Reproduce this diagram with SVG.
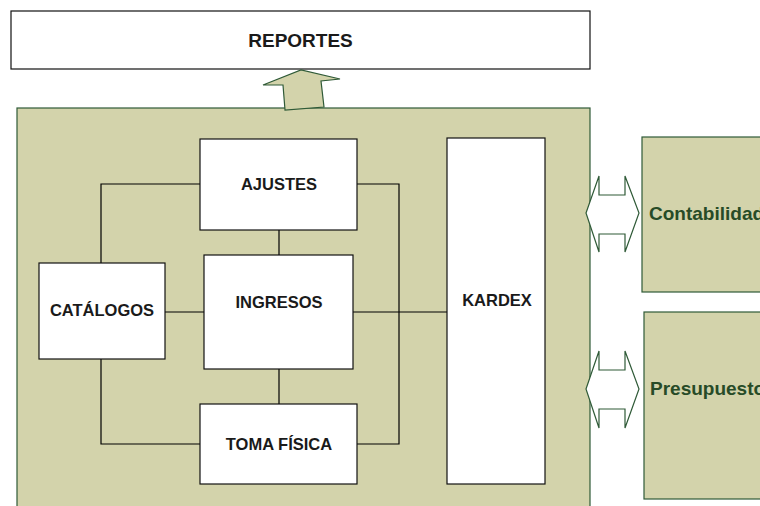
<svg xmlns="http://www.w3.org/2000/svg" width="760" height="506" viewBox="0 0 760 506">
  <style>
    .box { fill: #ffffff; stroke: #111111; stroke-width: 1.2; }
    .shade { fill: none; stroke: #777777; stroke-width: 1.2; }
    .panel { fill: #d3d3ab; stroke: #2f5a37; stroke-width: 1.2; }
    .link { fill: none; stroke: #000000; stroke-width: 1.2; }
    .label { font-family: "Liberation Sans", Arial, sans-serif; font-weight: bold; font-size: 16.5px; fill: #1a1a1a; text-anchor: middle; }
    .ext { font-family: "Liberation Sans", Arial, sans-serif; font-weight: bold; font-size: 19px; fill: #274b27; }
    .flow { fill: #ffffff; stroke: #2f5a37; stroke-width: 1.2; stroke-linejoin: miter; }
    .up { fill: #d3d3ab; stroke: #2f5a37; stroke-width: 1.2; }
  </style>

  <rect width="760" height="506" fill="#ffffff"/>

  <!-- report output -->
  <g id="reportes">
    <rect class="box" x="11" y="11" width="579" height="58"/>
    <text class="label" x="300.5" y="47" style="font-size:19px">REPORTES</text>
  </g>

  <!-- main inventory module -->
  <g id="inventario">
    <rect class="panel" x="17" y="108" width="573" height="410"/>
  </g>

  <!-- upward arrow towards reports -->
  <g id="flecha-reportes">
    <polygon class="up" points="285,110 283,85 263,85 301,70 340,79 321,81 324,107"/>
  </g>

  <!-- connectors -->
  <g id="connectors">
    <polyline class="link" points="200,184 101,184 101,444 200,444"/>
    <polyline class="link" points="357,184 399,184 399,444 357,444"/>
    <line class="link" x1="279" y1="230" x2="279" y2="255"/>
    <line class="link" x1="279" y1="369" x2="279" y2="404"/>
    <line class="link" x1="165" y1="312" x2="204" y2="312"/>
    <line class="link" x1="353" y1="312" x2="447" y2="312"/>
  </g>

  <g id="ajustes">
    <rect class="box" x="200" y="139" width="157" height="91"/>
    <text class="label" x="279" y="190">AJUSTES</text>
  </g>

  <g id="ingresos">
    <rect class="box" x="204" y="255" width="149" height="114"/>
    <text class="label" x="279" y="308">INGRESOS</text>
  </g>

  <g id="catalogos">
    <rect class="box" x="39" y="263" width="126" height="96"/>
    <text class="label" x="102" y="316">CATÁLOGOS</text>
  </g>

  <g id="toma-fisica">
    <rect class="box" x="200" y="404" width="157" height="80"/>
    <text class="label" x="279" y="450">TOMA FÍSICA</text>
  </g>

  <g id="kardex">
    <rect class="box" x="447" y="138" width="98" height="346"/>
    <text class="label" x="497" y="306">KARDEX</text>
  </g>

  <!-- external systems -->
  <g id="contabilidad">
    <rect class="panel" x="642" y="137" width="130" height="155"/>
    <text class="ext" x="649" y="220">Contabilidad</text>
  </g>

  <g id="presupuesto">
    <rect class="panel" x="644" y="312" width="130" height="187"/>
    <text class="ext" x="650" y="395">Presupuesto</text>
  </g>

  <!-- two-way exchange arrows -->
  <g id="flecha-contabilidad">
    <polygon class="flow" points="586,213 599,176 599,195 625,195 625,176 639,213 625,252 625,234 599,234 599,252"/>
  </g>
  <g id="flecha-presupuesto">
    <polygon class="flow" points="586,389 599,351 599,370 625,370 625,351 639,389 625,428 625,409 599,409 599,428"/>
  </g>
</svg>
